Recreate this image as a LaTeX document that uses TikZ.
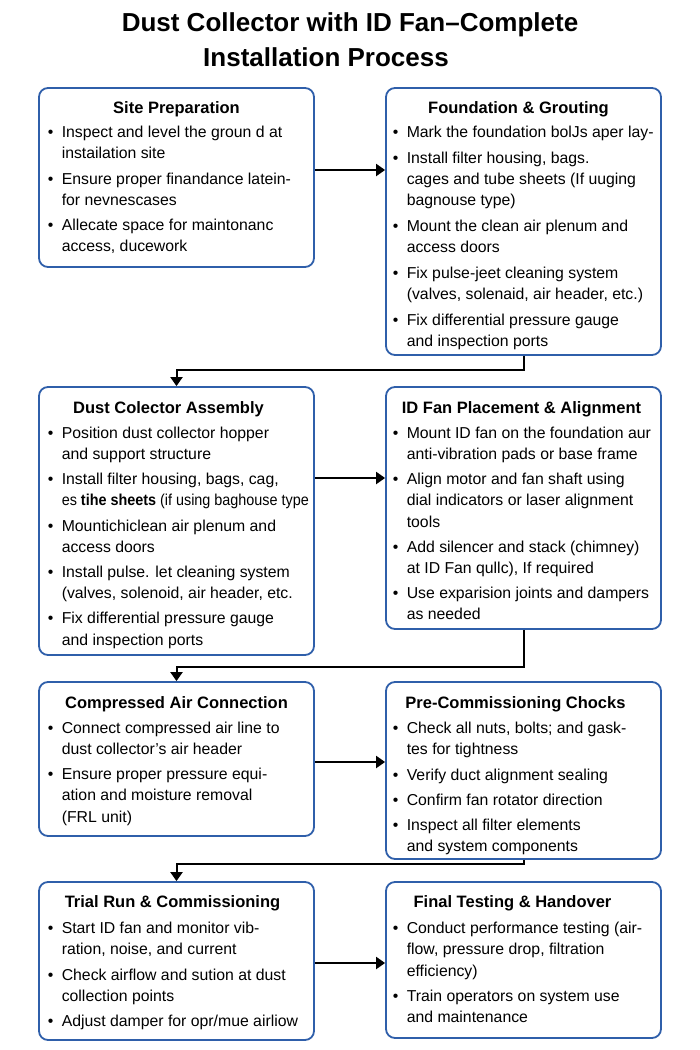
\documentclass[tikz,border=0pt]{standalone}
\usepackage{fontspec}
\setmainfont{Liberation Sans}
\usepackage{graphicx}
\usetikzlibrary{arrows.meta,positioning}

\definecolor{boxblue}{HTML}{2F5FAA}
\newcommand{\bitem}[1]{\makebox[14pt][l]{\textbullet}#1}
\newcommand{\bcont}[1]{\hspace*{14pt}#1}

\tikzset{
    stepbox/.style = {draw = boxblue, line width = 1.8pt, rounded corners = 9pt,
        minimum width = 275pt, inner sep = 0pt},
    head/.style = {anchor = base, inner sep = 0pt, font = \fontsize{16.5}{20}\selectfont\bfseries},
    body/.style = {anchor = north west, inner sep = 0pt, align = left,
        font = \fontsize{15.8}{21.2}\selectfont},
    flow/.style = {line width = 2pt, -{Triangle[width = 12pt, length = 9pt]}}
}

\begin{document}
\begin{tikzpicture}[x = 1pt, y = -1pt]
    \useasboundingbox (0,0) rectangle (700,1050);

    % title
    \node[anchor = north, inner sep = 0pt, align = center,
        font = \fontsize{26}{35}\selectfont\bfseries] (title) at (350,12)
        {Dust Collector with ID Fan--Complete\\Installation Process\hspace*{48pt}};

    % boxes
    \node[stepbox, minimum height = 179pt] (site)  at (176.5,177.5) {};
    \node[stepbox, minimum height = 267pt] (found) at (523.5,221.5) {};
    \node[stepbox, minimum height = 268pt] (dust)  at (176.5,521) {};
    \node[stepbox, minimum height = 242pt] (fan)   at (523.5,508) {};
    \node[stepbox, minimum height = 154pt] (air)   at (176.5,759) {};
    \node[stepbox, minimum height = 177pt] (check) at (523.5,770.5) {};
    \node[stepbox, minimum height = 158pt] (trial) at (176.5,961) {};
    \node[stepbox, minimum height = 156pt] (final) at (523.5,960) {};

    % headings
    \node[head] (site-h)  at ([yshift = -26pt]site.north) {Site Preparation};
    \node[head] (found-h) at ([xshift = -5pt, yshift = -26pt]found.north) {Foundation \& Grouting};
    \node[head] (dust-h)  at ([xshift = -8pt, yshift = -27pt]dust.north) {Dust Colector Assembly};
    \node[head] (fan-h)   at ([xshift = -2pt, yshift = -27pt]fan.north) {ID Fan Placement \& Alignment};
    \node[head] (air-h)   at ([yshift = -27pt]air.north) {Compressed Air Connection};
    \node[head] (check-h) at ([xshift = -8pt, yshift = -27pt]check.north) {Pre-Commissioning Chocks};
    \node[head] (trial-h) at ([xshift = -4pt, yshift = -26pt]trial.north) {Trial Run \& Commissioning};
    \node[head] (final-h) at ([xshift = -11pt, yshift = -26pt]final.north) {Final Testing \& Handover};

    % bullet lists
    \node[body] (site-b) at ([xshift = 9.5pt, yshift = -39pt]site.north west)
        {\bitem{Inspect and level the groun d at}\\
         \bcont{instailation site}\\[4pt]
         \bitem{Ensure proper finandance latein-}\\
         \bcont{for nevnescases}\\[4pt]
         \bitem{Allecate space for maintonanc}\\
         \bcont{access, ducework}};
    \node[body] (found-b) at ([xshift = 7.5pt, yshift = -39pt]found.north west)
        {\bitem{Mark the foundation bolJs aper lay-}\\[4.5pt]
         \bitem{Install filter housing, bags.}\\
         \bcont{cages and tube sheets (If uuging}\\
         \bcont{bagnouse type)}\\[4.5pt]
         \bitem{Mount the clean air plenum and}\\
         \bcont{access doors}\\[4.5pt]
         \bitem{Fix pulse-jeet cleaning system}\\
         \bcont{(valves, solenaid, air header, etc.)}\\[4.5pt]
         \bitem{Fix differential pressure gauge}\\
         \bcont{and inspection ports}};
    \node[body] (dust-b) at ([xshift = 9.5pt, yshift = -40.5pt]dust.north west)
        {\bitem{Position dust collector hopper}\\
         \bcont{and support structure}\\[4pt]
         \bitem{Install filter housing, bags, cag,}\\
         \bcont{\resizebox{247pt}{\height}{es \textbf{tihe sheets} (if using baghouse type}}\\[4pt]
         \bitem{Mountichiclean air plenum and}\\
         \bcont{access doors}\\[4pt]
         \bitem{Install pulse. let cleaning system}\\
         \bcont{(valves, solenoid, air header, etc.}\\[4pt]
         \bitem{Fix differential pressure gauge}\\
         \bcont{and inspection ports}};
    \node[body] (fan-b) at ([xshift = 7.5pt, yshift = -40.5pt]fan.north west)
        {\bitem{Mount ID fan on the foundation aur}\\
         \bcont{anti-vibration pads or base frame}\\[4pt]
         \bitem{Align motor and fan shaft using}\\
         \bcont{dial indicators or laser alignment}\\
         \bcont{tools}\\[4pt]
         \bitem{Add silencer and stack (chimney)}\\
         \bcont{at ID Fan qullc), If required}\\[4pt]
         \bitem{Use exparision joints and dampers}\\
         \bcont{as needed}};
    \node[body] (air-b) at ([xshift = 9.5pt, yshift = -40.5pt]air.north west)
        {\bitem{Connect compressed air line to}\\
         \bcont{dust collector’s air header}\\[4pt]
         \bitem{Ensure proper pressure equi-}\\
         \bcont{ation and moisture removal}\\
         \bcont{(FRL unit)}};
    \node[body] (check-b) at ([xshift = 7.5pt, yshift = -41pt]check.north west)
        {\bitem{Check all nuts, bolts; and gask-}\\
         \bcont{tes for tightness}\\[4pt]
         \bitem{Verify duct alignment sealing}\\[4pt]
         \bitem{Confirm fan rotator direction}\\[4pt]
         \bitem{Inspect all filter elements}\\
         \bcont{and system components}};
    \node[body] (trial-b) at ([xshift = 9.5pt, yshift = -41pt]trial.north west)
        {\bitem{Start ID fan and monitor vib-}\\
         \bcont{ration, noise, and current}\\[4pt]
         \bitem{Check airflow and sution at dust}\\
         \bcont{collection points}\\[4pt]
         \bitem{Adjust damper for opr/mue airliow}};
    \node[body] (final-b) at ([xshift = 7.5pt, yshift = -41pt]final.north west)
        {\bitem{Conduct performance testing (air-}\\
         \bcont{flow, pressure drop, filtration}\\
         \bcont{efficiency)}\\[4pt]
         \bitem{Train operators on system use}\\
         \bcont{and maintenance}};

    % connectors
    \draw[flow] ([yshift = 7.5pt]site.east) -- ([yshift = 7.5pt]site.east -| found.west);
    \draw[flow] (found.south) -- ++(0,14) -| (dust.north);
    \draw[flow] ([yshift = 43pt]dust.east) -- ([yshift = 43pt]dust.east -| fan.west);
    \draw[flow] (fan.south) -- ++(0,37) -| (air.north);
    \draw[flow] ([yshift = -3pt]air.east) -- ([yshift = -3pt]air.east -| check.west);
    \draw[flow] (check.south) -- ++(0,4) -| (trial.north);
    \draw[flow] ([yshift = -2pt]trial.east) -- ([yshift = -2pt]trial.east -| final.west);
\end{tikzpicture}
\end{document}
